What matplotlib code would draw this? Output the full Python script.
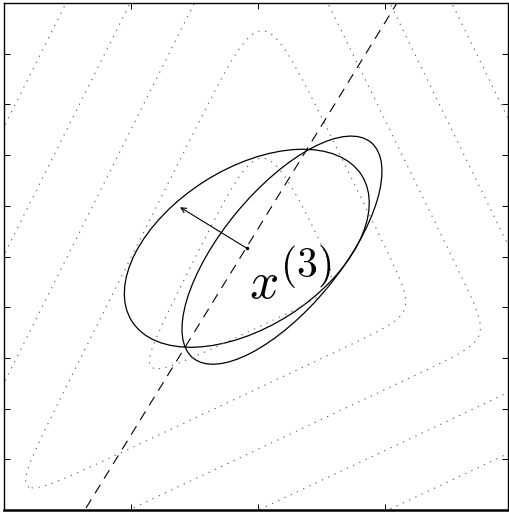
import numpy as np
import matplotlib
matplotlib.use('Agg')
import matplotlib.pyplot as plt
from matplotlib.patches import Ellipse

plt.rcParams['mathtext.fontset'] = 'cm'

# objective: smoothed max of three affine terms, rows
# (left side, right side, bottom side of the triangular level sets)
a_rows = np.array([[-1.98, 0.99], [2.05, 1.00], [0.98, -2.08]])
b_vals = np.array([-0.98, -1.12, -1.16])
smooth_top = 0.4      # rounding at the apex (left/right terms)
smooth_low = 0.25     # rounding at the two lower corners
levels = [0, 1, 2, 3, 4]

# current ellipsoid E(3) (centre x3) and the next one E(4)
x3 = np.array([-0.092, 0.065])
P3 = np.array([[0.93, 0.345], [0.345, 0.61]])
x4 = np.array([0.185, 0.05])
P4 = np.array([[0.62, 0.49], [0.49, 0.81]])

# cutting plane through x3 (dashed) and the subgradient arrow tip
cut_x = [-1.358, 1.091]
cut_y = [-1.984, 2.0]
g_tip = [-0.618, 0.389]

# label x^(3): base letter and superscript placed separately
base_txt, base_pos = r'$x$', (-0.078, -0.325)
sup_txt, sup_pos = r'$(3)$', (0.172, -0.165)

xticks = [-1, 0, 1]
yticks = [-1.6, -1.2, -0.8, -0.4, 0, 0.4, 0.8, 1.2, 1.6]


def smax(u, v, t):
    m = np.maximum(u, v)
    return m + t * np.log(np.exp((u - m) / t) + np.exp((v - m) / t))


def add_ellipse(ax, c, P):
    w, V = np.linalg.eigh(P)
    ang = np.degrees(np.arctan2(V[1, -1], V[0, -1]))
    e = Ellipse(c, width=2 * np.sqrt(w[-1]), height=2 * np.sqrt(w[0]), angle=ang,
                fill=False, edgecolor='k', lw=0.9)
    ax.add_patch(e)


fig = plt.figure(figsize=(5.09, 5.13), dpi=100)
ax = fig.add_axes([4 / 509, 3 / 513, 504 / 509, 507 / 513])

# dotted level curves
gx, gy = np.meshgrid(np.linspace(-2.1, 2.1, 600), np.linspace(-2.1, 2.1, 600))
terms = a_rows[:, 0, None, None] * gx + a_rows[:, 1, None, None] * gy + b_vals[:, None, None]
f = smax(smax(terms[0], terms[1], smooth_top), terms[2], smooth_low)
ax.contour(gx, gy, f, levels=levels, colors='0.4', linewidths=0.8,
           linestyles=[(0, (1.2, 5.0))])

# cut and ellipsoids
ax.plot(cut_x, cut_y, color='k', lw=0.8, dashes=(9, 6.5))
add_ellipse(ax, x3, P3)
add_ellipse(ax, x4, P4)

ax.annotate('', xy=g_tip, xytext=x3,
            arrowprops=dict(arrowstyle='->', color='k', lw=0.8,
                            shrinkA=0, shrinkB=0, mutation_scale=9))
ax.plot([x3[0]], [x3[1]], 'k.', ms=3)

ax.text(base_pos[0], base_pos[1], base_txt, fontsize=37, ha='left', va='baseline')
ax.text(sup_pos[0], sup_pos[1], sup_txt, fontsize=30, ha='left', va='baseline')

ax.set_xlim(-2.004, 1.965)
ax.set_ylim(-2.0, 2.0)
ax.set_xticks(xticks)
ax.set_yticks(yticks)
ax.set_xticklabels([])
ax.set_yticklabels([])
ax.tick_params(direction='in', length=4, width=0.7, top=True, right=True)
for s in ax.spines.values():
    s.set_linewidth(1.0)
ax.spines['bottom'].set_linewidth(1.8)

fig.savefig('out.png', dpi=100)
